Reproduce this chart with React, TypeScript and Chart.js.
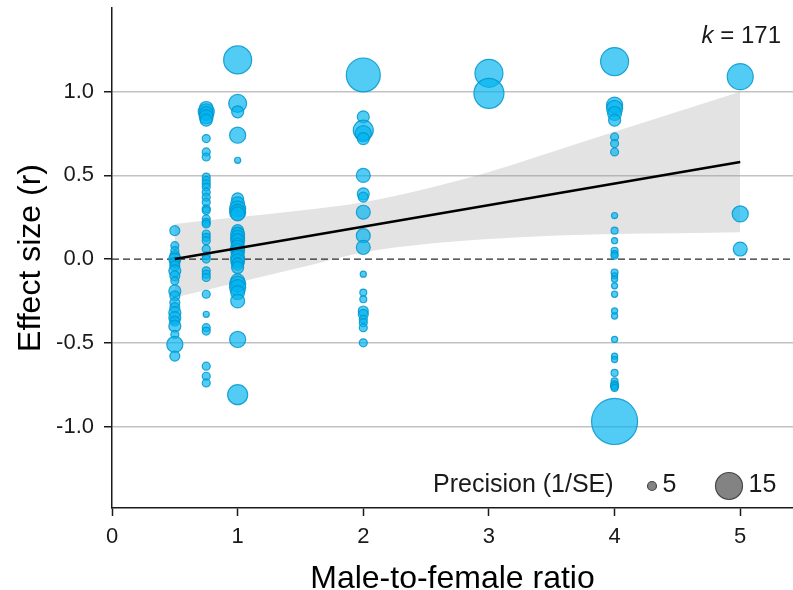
import React, { useEffect, useRef } from "react";
import { Chart, registerables } from "chart.js";

Chart.register(...registerables);

const FONT = '"Liberation Sans", Arial, Helvetica, sans-serif';

// Effect sizes (r) and their precision (1/SE), grouped by male-to-female ratio
const ratioLevels = [0.5, 0.75, 1, 2, 3, 4, 5];

const effectAt05 = [0.17, 0.08, 0.05, 0.02, 0.0, -0.02, -0.04, -0.07, -0.1, -0.13, -0.19, -0.22, -0.26, -0.29, -0.32, -0.35, -0.37, -0.4, -0.45, -0.51, -0.58];
const precisionAt05 = [5.4, 4.6, 4.6, 5.4, 6.3, 5.4, 5.4, 6.3, 5.4, 4.6, 6.3, 5.4, 5.4, 5.4, 6.3, 6.3, 5.4, 6.3, 4.6, 8.3, 5.4];

const effectAt075 = [0.9, 0.88, 0.87, 0.85, 0.83, 0.72, 0.64, 0.61, 0.49, 0.47, 0.45, 0.43, 0.4, 0.37, 0.34, 0.3, 0.29, 0.24, 0.22, 0.21, 0.15, 0.13, 0.11, 0.06, 0.02, 0.0, -0.07, -0.09, -0.11, -0.21, -0.33, -0.41, -0.43, -0.64, -0.7, -0.74];
const precisionAt075 = [7.2, 8.3, 7.2, 7.2, 6.3, 4.6, 4.6, 4.6, 4.6, 4.6, 4.6, 4.6, 4.6, 4.6, 4.6, 4.6, 4.6, 4.6, 4.6, 4.6, 4.6, 4.6, 4.6, 4.6, 4.6, 4.6, 4.6, 4.6, 4.6, 4.6, 3.9, 4.6, 4.6, 4.6, 4.6, 4.6];

const effectAt1 = [1.19, 0.93, 0.88, 0.74, 0.59, 0.36, 0.33, 0.3, 0.29, 0.28, 0.27, 0.17, 0.16, 0.15, 0.13, 0.12, 0.11, 0.09, 0.07, 0.05, 0.04, 0.03, 0.01, -0.01, -0.02, -0.03, -0.05, -0.13, -0.15, -0.16, -0.17, -0.2, -0.25, -0.48, -0.81];
const precisionAt1 = [15.7, 9.3, 6.3, 8.3, 3.9, 6.3, 7.2, 8.3, 6.3, 8.3, 7.2, 6.3, 5.4, 7.2, 7.2, 5.4, 7.2, 6.3, 7.2, 7.2, 5.4, 6.3, 7.2, 7.2, 5.4, 6.3, 6.3, 7.2, 8.3, 6.3, 8.3, 7.2, 7.2, 8.3, 10.5];

const effectAt2 = [1.1, 0.85, 0.77, 0.75, 0.72, 0.5, 0.39, 0.37, 0.28, 0.14, 0.07, -0.09, -0.2, -0.24, -0.31, -0.33, -0.36, -0.38, -0.41, -0.5];
const precisionAt2 = [20.3, 6.3, 10.5, 8.3, 6.3, 7.2, 6.3, 5.4, 7.2, 7.2, 7.2, 3.9, 4.2, 4.2, 5.4, 5.4, 4.6, 4.6, 4.6, 4.6];

const effectAt3 = [1.11, 0.99];
const precisionAt3 = [15.7, 17.2];

const effectAt4 = [1.18, 0.92, 0.9, 0.87, 0.83, 0.73, 0.69, 0.64, 0.26, 0.17, 0.11, 0.05, 0.03, 0.02, -0.08, -0.1, -0.12, -0.16, -0.21, -0.31, -0.34, -0.48, -0.58, -0.6, -0.68, -0.73, -0.75, -0.76, -0.77, -0.97];
const precisionAt4 = [15.7, 8.3, 8.3, 7.2, 6.3, 4.6, 4.6, 4.6, 3.9, 4.2, 3.9, 4.2, 4.2, 4.2, 4.2, 3.9, 3.9, 3.9, 3.9, 3.9, 3.9, 3.9, 3.9, 3.9, 4.2, 4.2, 4.6, 4.6, 4.2, 31.4];

const effectAt5 = [1.09, 0.27, 0.06];
const precisionAt5 = [14.3, 8.3, 7.2];

// Meta-regression line and its confidence band
const fitX = [0.5, 5];
const fitY = [0.0, 0.58];
const bandX = [0.5, 1, 1.5, 2, 2.5, 3, 3.5, 4, 4.5, 5];
const bandUpper = [0.21, 0.25, 0.29, 0.34, 0.42, 0.52, 0.64, 0.76, 0.88, 1.0];
const bandLower = [-0.23, -0.14, -0.05, 0.04, 0.09, 0.12, 0.14, 0.15, 0.155, 0.16];

// Axis ticks and legend
const xTicks = [0, 1, 2, 3, 4, 5];
const yTicks = [-1, -0.5, 0, 0.5, 1];
const legendPrecision = [5, 15];
const studyCount = 171;

const effectGroups = [effectAt05, effectAt075, effectAt1, effectAt2, effectAt3, effectAt4, effectAt5];
const precisionGroups = [precisionAt05, precisionAt075, precisionAt1, precisionAt2, precisionAt3, precisionAt4, precisionAt5];

// Size scale: radius grows with the square root of precision
function radiusFor(precision: number): number {
  return -7.8 + 5.5 * Math.sqrt(precision);
}

const POINT_FILL = "rgba(0, 180, 240, 0.68)";
const POINT_EDGE = "rgba(0, 150, 205, 0.85)";

// keep the plot panel flush with the fixed axis sizes
function noScalePadding(s: any) {
  s.paddingTop = 0;
  s.paddingBottom = 0;
  s.paddingLeft = 0;
  s.paddingRight = 0;
}

const overlayPlugin = {
  id: "overlay",
  afterDatasetDraw(chart: any, args: any) {
    if (args.index !== 1) return;
    // dashed reference line at r = 0, drawn above the band and below the points
    const { ctx, chartArea } = chart;
    const y0 = chart.scales.y.getPixelForValue(0);
    ctx.save();
    ctx.strokeStyle = "#2a2a2a";
    ctx.lineWidth = 1.3;
    ctx.setLineDash([7, 4]);
    ctx.beginPath();
    ctx.moveTo(chartArea.left, y0);
    ctx.lineTo(chartArea.right, y0);
    ctx.stroke();
    ctx.restore();
  },
  afterDraw(chart: any) {
    const { ctx, chartArea } = chart;
    ctx.save();
    ctx.fillStyle = "#1a1a1a";
    ctx.textBaseline = "alphabetic";

    // number of effect sizes, top right
    const kRight = chartArea.right - 12;
    const kBase = chartArea.top + 35;
    ctx.font = `24px ${FONT}`;
    const rest = ` = ${studyCount}`;
    const restW = ctx.measureText(rest).width;
    ctx.textAlign = "right";
    ctx.fillText(rest, kRight, kBase);
    ctx.font = `italic 24px ${FONT}`;
    ctx.fillText("k", kRight - restW, kBase);

    // precision size legend, bottom right
    const base = chartArea.bottom - 16;
    const cy = base - 6;
    ctx.textAlign = "left";
    ctx.font = `25px ${FONT}`;
    ctx.fillText("Precision (1/SE)", chartArea.left + 321, base);
    const keyX = [chartArea.left + 540, chartArea.left + 617];
    legendPrecision.forEach((p, i) => {
      const r = radiusFor(p);
      ctx.beginPath();
      ctx.arc(keyX[i], cy, r, 0, Math.PI * 2);
      ctx.fillStyle = "rgba(100, 100, 100, 0.8)";
      ctx.fill();
      ctx.lineWidth = 1.2;
      ctx.strokeStyle = "rgba(60, 60, 60, 0.9)";
      ctx.stroke();
      ctx.fillStyle = "#1a1a1a";
      ctx.font = `25px ${FONT}`;
      ctx.fillText(String(p), keyX[i] + r + 6, base);
    });
    ctx.restore();
  },
};

export default function App() {
  const canvasRef = useRef<HTMLCanvasElement | null>(null);

  useEffect(() => {
    const canvas = canvasRef.current;
    if (!canvas) return;

    const points: { x: number; y: number }[] = [];
    const radii: number[] = [];
    ratioLevels.forEach((ratio, g) => {
      effectGroups[g].forEach((effect, i) => {
        points.push({ x: ratio, y: effect });
        radii.push(radiusFor(precisionGroups[g][i]));
      });
    });

    const chart = new Chart(canvas, {
      type: "scatter",
      data: {
        datasets: [
          {
            label: "lower",
            data: bandX.map((x, i) => ({ x, y: bandLower[i] })),
            showLine: true,
            borderWidth: 0,
            borderColor: "rgba(0,0,0,0)",
            pointRadius: 0,
            fill: false,
            cubicInterpolationMode: "monotone",
            order: 5,
          },
          {
            label: "upper",
            data: bandX.map((x, i) => ({ x, y: bandUpper[i] })),
            showLine: true,
            borderWidth: 0,
            borderColor: "rgba(0,0,0,0)",
            backgroundColor: "rgba(150, 150, 150, 0.27)",
            pointRadius: 0,
            fill: "-1",
            cubicInterpolationMode: "monotone",
            order: 4,
          },
          {
            label: "studies",
            data: points,
            pointRadius: radii,
            backgroundColor: POINT_FILL,
            borderColor: POINT_EDGE,
            pointBackgroundColor: POINT_FILL,
            pointBorderColor: POINT_EDGE,
            pointBorderWidth: 1.2,
            order: 2,
          },
          {
            label: "fit",
            data: fitX.map((x, i) => ({ x, y: fitY[i] })),
            showLine: true,
            borderColor: "#000000",
            borderWidth: 2.6,
            pointRadius: 0,
            fill: false,
            order: 1,
          },
        ],
      } as any,
      options: {
        animation: false,
        responsive: false,
        maintainAspectRatio: false,
        events: [],
        layout: { autoPadding: false, padding: { top: 8, right: 0, bottom: 0, left: 0 } },
        plugins: {
          legend: { display: false },
          tooltip: { enabled: false },
        },
        scales: {
          x: {
            type: "linear",
            position: "bottom",
            min: 0,
            max: 5.42,
            afterBuildTicks: (s: any) => {
              s.ticks = xTicks.map((v) => ({ value: v }));
            },
            afterFit: (s: any) => {
              s.height = 82;
              noScalePadding(s);
            },
            grid: {
              drawOnChartArea: false,
              drawTicks: true,
              tickLength: 8,
              tickWidth: 1.5,
              tickColor: "#1a1a1a",
            },
            border: { display: true, color: "#1a1a1a", width: 1.5 },
            ticks: {
              color: "#1a1a1a",
              font: { family: FONT, size: 22 },
              padding: 8,
              maxRotation: 0,
              callback: (v: any) => String(v),
            },
            title: {
              display: true,
              text: "Male-to-female ratio",
              color: "#000000",
              font: { family: FONT, size: 32 },
              padding: { top: 0, bottom: -8 },
            },
          },
          y: {
            type: "linear",
            position: "left",
            min: -1.487,
            max: 1.5,
            afterBuildTicks: (s: any) => {
              s.ticks = yTicks.map((v) => ({ value: v }));
            },
            afterFit: (s: any) => {
              s.width = 112;
              noScalePadding(s);
            },
            grid: {
              color: (c: any) => (c.tick && c.tick.value === 0 ? "rgba(0,0,0,0)" : "#c2c2c2"),
              lineWidth: 1.5,
              drawTicks: true,
              tickLength: 8,
              tickWidth: 1.5,
              tickColor: "#1a1a1a",
            },
            border: { display: true, color: "#1a1a1a", width: 1.5 },
            ticks: {
              color: "#1a1a1a",
              font: { family: FONT, size: 22 },
              padding: 10,
              callback: (v: any) => Number(v).toFixed(1),
            },
            title: {
              display: true,
              text: "Effect size (r)",
              color: "#000000",
              font: { family: FONT, size: 32 },
              padding: { top: 12, bottom: 0 },
            },
          },
        },
      } as any,
      plugins: [overlayPlugin],
    });

    return () => {
      chart.destroy();
    };
  }, []);

  return (
    <div style={{ position: "absolute", left: 0, top: 0, width: 793, height: 590, background: "#ffffff" }}>
      <canvas ref={canvasRef} width={793} height={590} style={{ display: "block", width: 793, height: 590 }} />
    </div>
  );
}
